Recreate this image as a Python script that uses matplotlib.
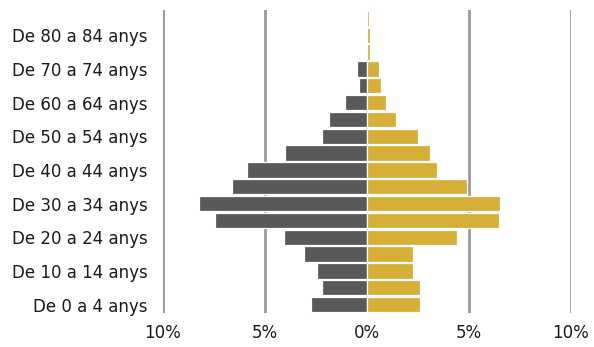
import matplotlib.pyplot as plt
import numpy as np

# age groups, bottom to top
groups = ['De 0 a 4 anys', 'De 5 a 9 anys', 'De 10 a 14 anys', 'De 15 a 19 anys',
          'De 20 a 24 anys', 'De 25 a 29 anys', 'De 30 a 34 anys', 'De 35 a 39 anys',
          'De 40 a 44 anys', 'De 45 a 49 anys', 'De 50 a 54 anys', 'De 55 a 59 anys',
          'De 60 a 64 anys', 'De 65 a 69 anys', 'De 70 a 74 anys', 'De 75 a 79 anys',
          'De 80 a 84 anys', 'De 85 anys i més']
homes = [2.75, 2.2, 2.45, 3.1, 4.05, 7.45, 8.25, 6.6, 5.9, 4.0, 2.2, 1.85,
         1.1, 0.4, 0.5, 0.0, 0.0, 0.0]
dones = [2.6, 2.6, 2.25, 2.25, 4.4, 6.45, 6.5, 4.9, 3.45, 3.1, 2.5, 1.4,
         0.95, 0.7, 0.6, 0.17, 0.17, 0.1]
xticks = [-10, -5, 0, 5, 10]
xlabels = ['10%', '5%', '0%', '5%', '10%']

grey = '#58595b'
gold = '#d6af36'

fig = plt.figure(figsize=(5.94, 3.47), dpi=100)
ax = fig.add_axes([163 / 594, (347 - 313) / 347, (571 - 163) / 594, 303 / 347])

y = np.arange(len(groups))
ax.barh(y, [-v for v in homes], height=0.92, color=grey, edgecolor='white',
        linewidth=0.9, zorder=3)
ax.barh(y, dones, height=0.92, color=gold, edgecolor='white',
        linewidth=0.9, zorder=3)

for x in [-10, -5, 5, 10]:
    ax.axvline(x, color='#999999', lw=2, zorder=1)

ax.set_xlim(-10, 10)
ax.set_ylim(-0.5, len(groups) - 0.5)
ax.set_xticks(xticks)
ax.set_xticklabels(xlabels)
ax.set_yticks(y[::2])
ax.set_yticklabels(groups[::2])
ax.tick_params(length=0, labelsize=12, colors='#1a1a1a')
ax.tick_params(axis='x', pad=8)
ax.tick_params(axis='y', pad=11)
for s in ax.spines.values():
    s.set_visible(False)

fig.savefig('out.png', dpi=100)
